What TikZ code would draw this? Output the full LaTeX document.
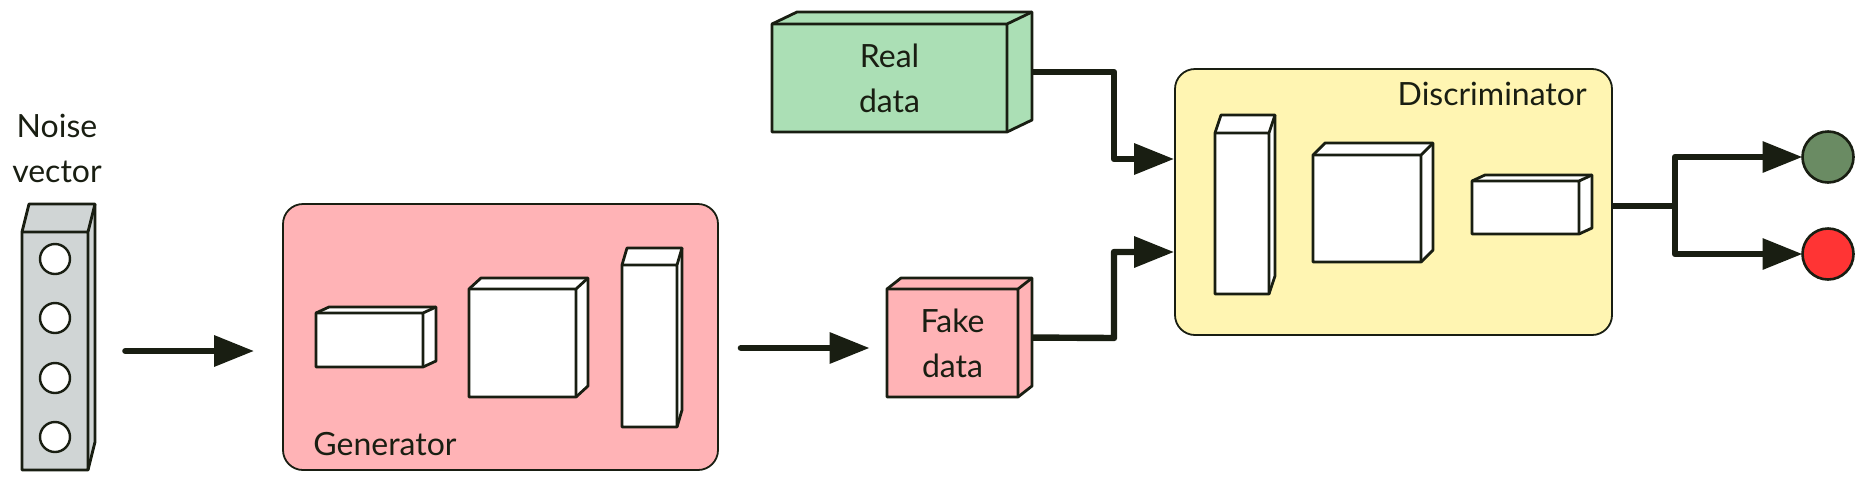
\documentclass[tikz,border=0pt]{standalone}
\usepackage{fontspec}
\setmainfont{Lato}
\usetikzlibrary{arrows.meta,calc,backgrounds}
\definecolor{ink}{HTML}{191E12}
\definecolor{pinkf}{HTML}{FFB3B6}
\definecolor{greenf}{HTML}{ABDFB5}
\definecolor{yellowf}{HTML}{FFF5B2}
\definecolor{grayf}{HTML}{D0D5D5}
\definecolor{outgreen}{HTML}{6A8B63}
\definecolor{outred}{HTML}{FF3434}
\tikzset{
  cubeline/.style={draw=ink, line width=1.4pt, line join=round},
  rbox/.style={draw=ink, line width=0.9pt, rounded corners=10pt, rectangle, inner sep=0pt},
  lbl/.style={font=\fontsize{16pt}{22.5pt}\selectfont, text=ink, inner sep=0pt},
  conn/.style={draw=ink, line width=3.2pt, line join=round, line cap=round},
  arr/.style={conn, -{Triangle[length=20pt,width=15pt]}},
  hole/.style={circle, draw=ink, line width=1.2pt, fill=white, minimum size=15pt, inner sep=0pt},
  outdot/.style={circle, draw=ink, line width=1.3pt, minimum size=25.5pt, inner sep=0pt}
}
% #1 name, #2 x, #3 y (front top-left), #4 w, #5 h, #6 dx, #7 dy, #8 fill, #9 text
\newcommand{\tdbox}[9]{%
  \filldraw[cubeline, fill=#8] (#2,#3) -- ({#2+#6},{#3+#7}) -- ({#2+#4+#6},{#3+#7})
    -- ({#2+#4+#6},{#3+#5+#7}) -- ({#2+#4},{#3+#5}) -- (#2,{#3+#5}) -- cycle;
  \draw[cubeline] (#2,#3) -- ({#2+#4},#3) -- ({#2+#4+#6},{#3+#7})
    ({#2+#4},#3) -- ({#2+#4},{#3+#5});
  \node[lbl, align=center, minimum width={#4*0.5pt}, minimum height={#5*0.5pt}]
    (#1) at ({#2+#4/2},{#3+#5/2}) {#9};
  \coordinate (#1-side) at ({#2+#4+#6/2},{#3+#5/2+#7/2});
}
\begin{document}
\begin{tikzpicture}[x=0.5pt,y=-0.5pt]
\useasboundingbox (0,0) rectangle (1868,488);

% Noise vector
\node[lbl, align=center] (nlabel) at (57,148) {Noise\\vector};
\tdbox{noise}{22}{232}{66}{238}{7}{-28}{grayf}{}
\node[hole] (h1) at (55,259) {};
\node[hole] (h2) at (55,318) {};
\node[hole] (h3) at (55,378) {};
\node[hole] (h4) at (55,437) {};

% Generator
\node[rbox, fill=pinkf, minimum width=217.5pt, minimum height=133pt] (gen) at (500.5,337) {};
\node[lbl, anchor=base west] (genlabel) at (313,455) {Generator};
\tdbox{g1}{316}{313}{107}{54}{13}{-6}{white}{}
\tdbox{g2}{469}{289}{107}{108}{12}{-11}{white}{}
\tdbox{g3}{622}{265}{55}{162}{5}{-17}{white}{}

% Data boxes
\tdbox{real}{772}{24}{235}{108}{25}{-12}{greenf}{Real\\data}
\tdbox{fake}{887}{289}{131}{108}{14}{-11}{pinkf}{Fake\\data}

% Discriminator
\node[rbox, fill=yellowf, minimum width=218.5pt, minimum height=133pt] (disc) at (1393.5,202) {};
\node[lbl, anchor=base east] (disclabel) at (1587,105) {Discriminator};
\tdbox{d1}{1215}{133}{54}{161}{6}{-18}{white}{}
\tdbox{d2}{1313}{155}{108}{107}{12}{-12}{white}{}
\tdbox{d3}{1472}{181}{107}{53}{13}{-6}{white}{}

% Outputs
\node[outdot, fill=outgreen] (o1) at (1828,157) {};
\node[outdot, fill=outred] (o2) at (1828,254) {};
\coordinate (split) at (1675,206);

% Connectors
\draw[arr] ($(noise.east)+(37,0)$) -- ($(gen.west |- noise.east)+(-28,0)$);
\draw[arr] ($(gen.east |- 0,348)+(22,0)$) -- ($(fake.west |- 0,348)+(-17,0)$);
\begin{scope}[on background layer]
\draw[arr] (real-side) -- (1114,72) -- (1114,159) -- (disc.west |- 0,159);
\draw[arr] (fake-side) -- (1114,338) -- (1114,252) -- (disc.west |- 0,252);
\draw[conn, line cap=butt] (disc.east |- split) -- (split);
\end{scope}
\draw[arr, shorten >=12.75pt] (split) |- (o1.center);
\draw[arr, shorten >=12.75pt] (split) |- (o2.center);
\end{tikzpicture}
\end{document}
